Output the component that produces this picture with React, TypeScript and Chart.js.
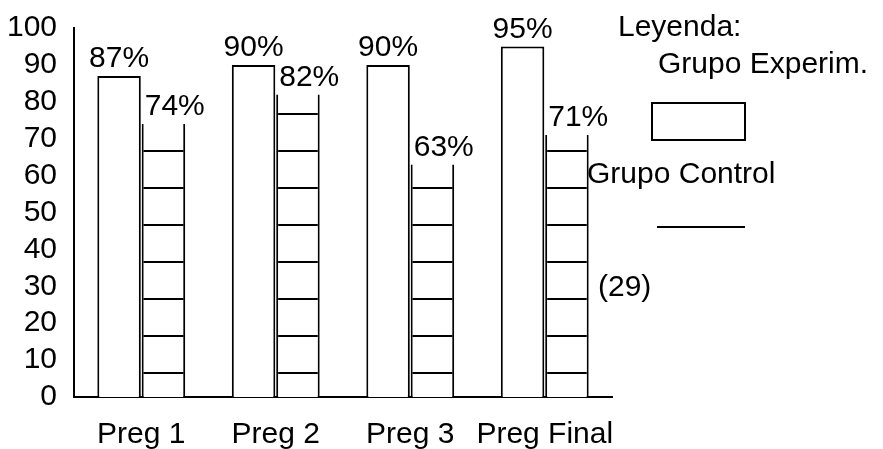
import React, { useEffect, useRef } from "react";
import { Chart, registerables } from "chart.js";

Chart.register(...registerables);

// ---- data ----
const categories = ["Preg 1", "Preg 2", "Preg 3", "Preg Final"];
const experimentalValues = [87, 90, 90, 95];
const controlValues = [74, 82, 63, 71];
const seriesNames = ["Grupo Experim.", "Grupo Control"];
const legendTitle = "Leyenda:";
const sampleNote = "(29)";
const yMin = 0;
const yMax = 100;
const yStep = 10;

// ---- style ----
const FONT = "'Liberation Sans', Arial, Helvetica, sans-serif";
const SIZE = 30;
const LEGEND_BASE_X = 605;

function makeStripePattern(ctx: CanvasRenderingContext2D) {
  const c = document.createElement("canvas");
  c.width = 4;
  c.height = 37;
  const g = c.getContext("2d")!;
  g.fillStyle = "#ffffff";
  g.fillRect(0, 0, 4, 37);
  g.fillStyle = "#000000";
  g.fillRect(0, 2, 4, 2);
  return ctx.createPattern(c, "repeat");
}

const valueLabels = {
  id: "valueLabels",
  afterDatasetsDraw(chart: any) {
    const ctx = chart.ctx;
    ctx.save();
    ctx.font = `${SIZE}px ${FONT}`;
    ctx.fillStyle = "#000";
    ctx.textBaseline = "bottom";
    chart.data.datasets.forEach((ds: any, di: number) => {
      const meta = chart.getDatasetMeta(di);
      meta.data.forEach((el: any, i: number) => {
        const v = ds.data[i];
        const { x, y, width } = el.getProps(["x", "y", "width"], true);
        if (di === 0) {
          ctx.textAlign = "center";
          ctx.fillText(`${v}%`, x, y - 2);
        } else {
          ctx.textAlign = "left";
          ctx.fillText(`${v}%`, x - width / 2 + 3, y - 2);
        }
      });
    });
    ctx.restore();
  },
};

const sideLegend = {
  id: "sideLegend",
  afterDraw(chart: any) {
    const ctx = chart.ctx;
    const left = LEGEND_BASE_X;
    ctx.save();
    ctx.font = `${SIZE}px ${FONT}`;
    ctx.fillStyle = "#000";
    ctx.textAlign = "left";
    ctx.textBaseline = "middle";
    ctx.fillText(legendTitle, left + 13, 28);
    ctx.fillText(seriesNames[0], left + 53, 65);
    // experimental swatch (outlined box like the bars)
    ctx.fillStyle = "#fff";
    ctx.fillRect(left + 47, 103, 93, 37);
    ctx.strokeStyle = "#000";
    ctx.lineWidth = 2;
    ctx.strokeRect(left + 47, 103, 93, 37);
    ctx.fillStyle = "#000";
    ctx.fillText(seriesNames[1], left - 18, 175);
    // control swatch (underscore-like stripe)
    ctx.fillRect(left + 52, 226, 88, 2);
    ctx.fillText(sampleNote, left - 7, 288);
    ctx.restore();
  },
};

export default function App() {
  const ref = useRef<HTMLCanvasElement | null>(null);

  useEffect(() => {
    const canvas = ref.current!;
    const ctx = canvas.getContext("2d")!;
    const stripes = makeStripePattern(ctx);
    const chart = new Chart(ctx, {
      type: "bar",
      data: {
        labels: categories,
        datasets: [
          {
            label: seriesNames[0],
            data: experimentalValues,
            backgroundColor: "#ffffff",
            borderColor: "#000000",
            borderWidth: { top: 2, left: 2, right: 2, bottom: 0 },
            categoryPercentage: 0.66,
            barPercentage: 0.98,
          },
          {
            label: seriesNames[1],
            data: controlValues,
            backgroundColor: stripes as any,
            borderColor: "#000000",
            borderWidth: { top: 0, left: 2, right: 2, bottom: 0 },
            categoryPercentage: 0.66,
            barPercentage: 0.98,
          },
        ],
      },
      options: {
        responsive: false,
        animation: false,
        devicePixelRatio: 1,
        layout: { padding: { left: 8, top: 28, right: 271, bottom: 0 } },
        plugins: {
          legend: { display: false },
          tooltip: { enabled: false },
        },
        scales: {
          x: {
            grid: { display: false },
            border: { display: true, color: "#000", width: 2 },
            afterFit: (scale: any) => {
              scale.height = 52;
            },
            ticks: {
              color: "#000",
              font: { family: FONT, size: SIZE },
              padding: 12,
              maxRotation: 0,
              autoSkip: false,
            },
          },
          y: {
            min: yMin,
            max: yMax,
            grid: { display: false },
            border: { display: true, color: "#000", width: 2 },
            afterFit: (scale: any) => {
              scale.width = 66;
            },
            ticks: {
              stepSize: yStep,
              autoSkip: false,
              color: "#000",
              font: { family: FONT, size: SIZE },
              padding: 9,
            },
          },
        },
      },
      plugins: [valueLabels, sideLegend],
    });
    return () => chart.destroy();
  }, []);

  return (
    <div
      style={{
        position: "absolute",
        left: 0,
        top: 0,
        width: 883,
        height: 449,
        background: "#ffffff",
      }}
    >
      <canvas ref={ref} width={883} height={449} style={{ display: "block" }} />
    </div>
  );
}
